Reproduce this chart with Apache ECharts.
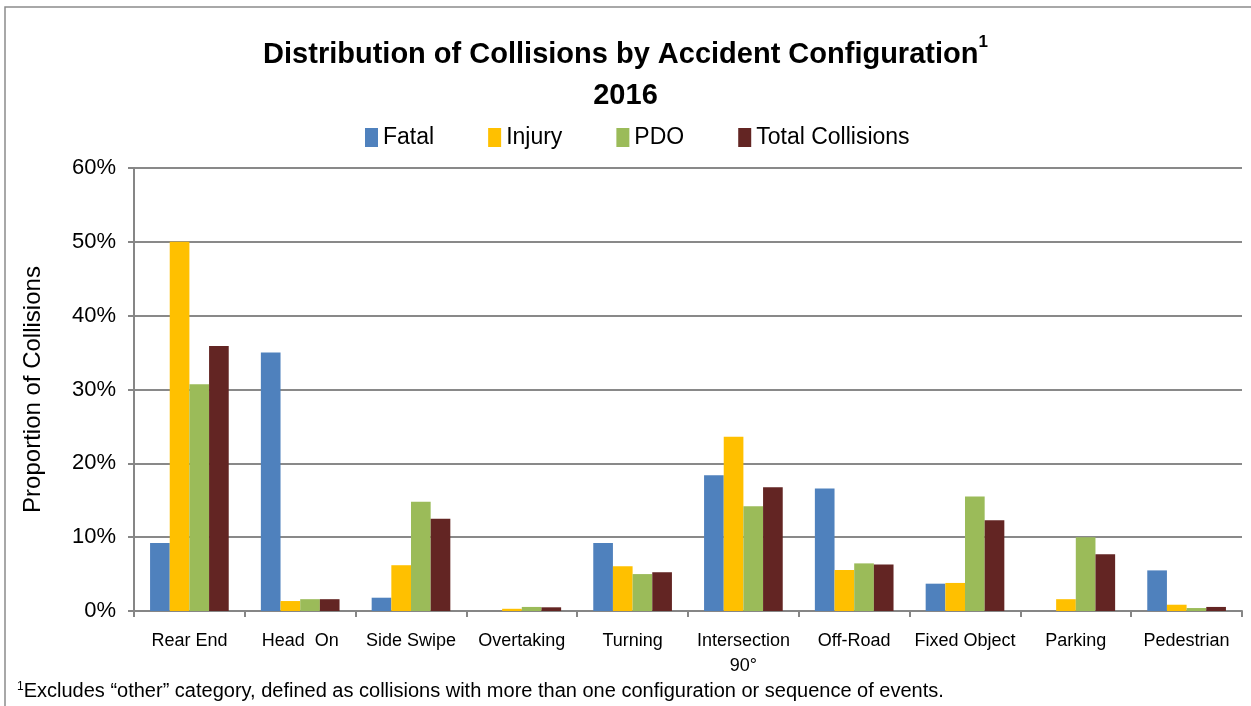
<!DOCTYPE html>
<html>
<head>
<meta charset="utf-8">
<script src="https://cdn.jsdelivr.net/npm/echarts@6/dist/echarts.min.js"></script>
<style>
  html, body { margin: 0; padding: 0; background: #fff; }
  #chart { width: 1251px; height: 706px; }
</style>
</head>
<body>
<div id="chart"></div>
<script>
// categories and values (proportion of collisions, %)
const categories = ['Rear End', 'Head  On', 'Side Swipe', 'Overtaking', 'Turning',
  'Intersection\n90°', 'Off-Road', 'Fixed Object', 'Parking', 'Pedestrian'];
const fatal  = [9.2, 35.0, 1.8, 0, 9.2, 18.4, 16.6, 3.7, 0, 5.5];
const injury = [50.0, 1.35, 6.2, 0.3, 6.05, 23.6, 5.55, 3.8, 1.6, 0.85];
const pdo    = [30.7, 1.6, 14.8, 0.55, 5.0, 14.2, 6.45, 15.5, 10.0, 0.4];
const total  = [35.9, 1.6, 12.5, 0.5, 5.25, 16.75, 6.3, 12.3, 7.7, 0.55];
const yTicks = [0, 10, 20, 30, 40, 50, 60];

const font = 'Liberation Sans, Arial, sans-serif';
const myChart = echarts.init(document.getElementById('chart'));

const seriesList = [
  {name: 'Fatal', data: fatal, color: '#4F81BD'},
  {name: 'Injury', data: injury, color: '#FFC000'},
  {name: 'PDO', data: pdo, color: '#9BBB59'},
  {name: 'Total Collisions', data: total, color: '#632523'}
].map(s => ({
  name: s.name,
  type: 'bar',
  data: s.data,
  barGap: '0%',
  barCategoryGap: '29%',
  itemStyle: {color: s.color},
  emphasis: {disabled: true}
}));

const option = {
  animation: false,
  backgroundColor: '#fff',
  textStyle: {fontFamily: font},
  title: {
    text: '{t|Distribution of Collisions by Accident Configuration}{s|1}\n{t|2016}',
    left: 'center',
    top: 29,
    textStyle: {
      rich: {
        t: {fontSize: 29, fontWeight: 'bold', color: '#000', fontFamily: font, lineHeight: 41},
        s: {fontSize: 17, fontWeight: 'bold', color: '#000', fontFamily: font, verticalAlign: 'top', lineHeight: 41, padding: [0, 0, 14, 0]}
      }
    }
  },
  legend: {
    top: 121,
    left: 360,
    itemWidth: 13,
    itemHeight: 19,
    itemGap: 54,
    icon: 'rect',
    textStyle: {fontSize: 23, color: '#000', fontFamily: font}
  },
  grid: {left: 134, right: 9, top: 168, bottom: 95, containLabel: false},
  xAxis: {
    type: 'category',
    data: categories,
    axisLine: {lineStyle: {color: '#868686', width: 2}},
    axisTick: {show: true, alignWithLabel: false, length: 6, lineStyle: {color: '#868686', width: 2}},
    axisLabel: {fontSize: 18, color: '#000', margin: 18, lineHeight: 25, interval: 0}
  },
  yAxis: {
    type: 'value',
    min: yTicks[0],
    max: yTicks[yTicks.length - 1],
    interval: 10,
    name: 'Proportion of Collisions',
    nameLocation: 'middle',
    nameGap: 89,
    nameTextStyle: {fontSize: 24, color: '#000', fontFamily: font},
    axisLine: {show: true, lineStyle: {color: '#868686', width: 2}},
    axisTick: {show: true, length: 6, lineStyle: {color: '#868686', width: 2}},
    splitLine: {lineStyle: {color: '#898989', width: 2}},
    axisLabel: {fontSize: 22, color: '#000', margin: 18, formatter: v => v + '%'}
  },
  graphic: [
    {
      type: 'polyline',
      shape: {points: [[5, 720], [5, 7], [1260, 7]]},
      style: {stroke: '#8c8c8c', lineWidth: 1.5, fill: null},
      silent: true
    },
    {
      type: 'text',
      left: 17,
      top: 681,
      style: {
        text: '{s|1}{t|Excludes “other” category, defined as collisions with more than one configuration or sequence of events.}',
        rich: {
          t: {fontSize: 20, fill: '#000', fontFamily: font},
          s: {fontSize: 12, fill: '#000', fontFamily: font, verticalAlign: 'top', padding: [0, 0, 9, 0]}
        }
      }
    }
  ],
  series: seriesList
};
myChart.setOption(option);
</script>
</body>
</html>
